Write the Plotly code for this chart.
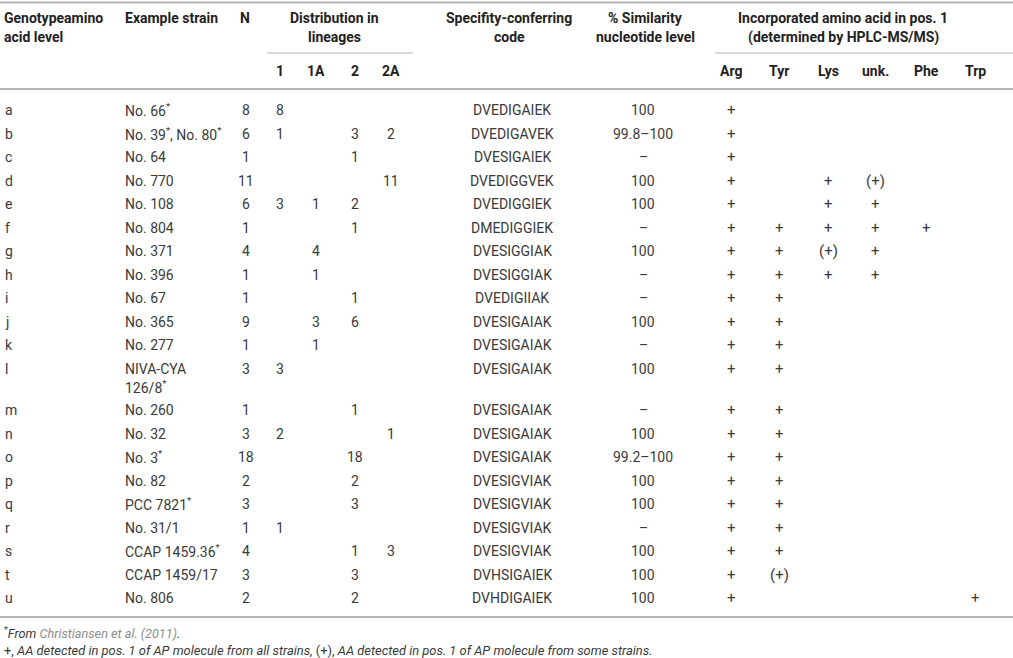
import plotly.graph_objects as go

# table content
genotypes = list("abcdefghijklmnopqrstu")
strains = ["No. 66*", "No. 39*, No. 80*", "No. 64", "No. 770", "No. 108", "No. 804",
           "No. 371", "No. 396", "No. 67", "No. 365", "No. 277", "NIVA-CYA|126/8*",
           "No. 260", "No. 32", "No. 3*", "No. 82", "PCC 7821*", "No. 31/1",
           "CCAP 1459.36*", "CCAP 1459/17", "No. 806"]
n_strains = [8, 6, 1, 11, 6, 1, 4, 1, 1, 9, 1, 3, 1, 3, 18, 2, 3, 1, 4, 3, 2]
lineage_1 = [8, 1, "", "", 3, "", "", "", "", "", "", 3, "", 2, "", "", "", 1, "", "", ""]
lineage_1a = ["", "", "", "", 1, "", 4, 1, "", 3, 1, "", "", "", "", "", "", "", "", "", ""]
lineage_2 = ["", 3, 1, "", 2, 1, "", "", 1, 6, "", "", 1, "", 18, 2, 3, "", 1, 3, 2]
lineage_2a = ["", 2, "", 11, "", "", "", "", "", "", "", "", "", 1, "", "", "", "", 3, "", ""]
codes = ["DVEDIGAIEK", "DVEDIGAVEK", "DVESIGAIEK", "DVEDIGGVEK", "DVEDIGGIEK", "DMEDIGGIEK",
         "DVESIGGIAK", "DVESIGGIAK", "DVEDIGIIAK", "DVESIGAIAK", "DVESIGAIAK", "DVESIGAIAK",
         "DVESIGAIAK", "DVESIGAIAK", "DVESIGAIAK", "DVESIGVIAK", "DVESIGVIAK", "DVESIGVIAK",
         "DVESIGVIAK", "DVHSIGAIEK", "DVHDIGAIEK"]
similarity = ["100", "99.8–100", "–", "100", "100", "–", "100", "–", "–", "100", "–", "100",
              "–", "100", "99.2–100", "100", "100", "–", "100", "100", "100"]
arg = ["+"] * 21
tyr = ["", "", "", "", "", "+", "+", "+", "+", "+", "+", "+", "+", "+", "+", "+", "+", "+", "+", "(+)", ""]
lys = ["", "", "", "+", "+", "+", "(+)", "+"] + [""] * 13
unk = ["", "", "", "(+)", "+", "+", "+", "+"] + [""] * 13
phe = [""] * 5 + ["+"] + [""] * 15
trp = [""] * 20 + ["+"]
aa_names = ["Arg", "Tyr", "Lys", "unk.", "Phe", "Trp"]
lineage_names = ["1", "1A", "2", "2A"]

FONT = "Roboto, Liberation Sans, Arial, sans-serif"
TXT = "#3a3a3a"
HEAD = "#222222"
RULE = "#b4b4b4"

fig = go.Figure()
ann = []


def txt(x, y, s, anchor="center", bold=False, size=14, color=TXT):
    if bold:
        s = "<b>" + s + "</b>"
    ann.append(dict(x=x, y=y, xref="x", yref="y", text=s, showarrow=False,
                    xanchor=anchor, yanchor="middle",
                    font=dict(family=FONT, size=size, color=HEAD if bold else color)))


def sup(s):
    return s.replace("*", "<sup>*</sup>")


# header
txt(2, 18, "Genotypeamino", "left", True)
txt(2, 37, "acid level", "left", True)
txt(123, 18, "Example strain", "left", True)
txt(245, 18, "N", "center", True)
txt(334, 18, "Distribution in", "center", True)
txt(334, 37, "lineages", "center", True)
txt(509, 18, "Specifity-conferring", "center", True)
txt(509, 37, "code", "center", True)
txt(645, 18, "% Similarity", "center", True)
txt(645, 37, "nucleotide level", "center", True)
txt(843, 18, "Incorporated amino acid in pos. 1", "center", True)
txt(843, 37, "(determined by HPLC-MS/MS)", "center", True)

lin_x = [280, 316, 355, 391]
aa_x = [731, 779, 828, 875, 926, 975]
for name, x in zip(lineage_names, lin_x):
    txt(x, 71, name, "center", True)
for name, x in zip(aa_names, aa_x):
    txt(x, 71, name, "center", True)

# body rows
y = 110
for i, g in enumerate(genotypes):
    lines = strains[i].split("|")
    txt(3, y, g, "left")
    for k, line in enumerate(lines):
        txt(123, y + 18 * k, sup(line), "left")
    txt(246, y, str(n_strains[i]))
    for col, x in zip([lineage_1, lineage_1a, lineage_2, lineage_2a], lin_x):
        if col[i] != "":
            txt(x, y, str(col[i]))
    txt(512, y, codes[i])
    txt(643, y, similarity[i])
    for col, x in zip([arg, tyr, lys, unk, phe, trp], aa_x):
        if col[i]:
            txt(x, y, col[i], size=15)
    y += 23.5 + 18 * (len(lines) - 1)

# footnotes
txt(2, 633, "<sup>*</sup><i>From </i><i><span style='color:#8c8c8c'>Christiansen et al. (2011)</span></i><i>.</i>",
    "left", size=12.7)
txt(2, 650, "+, <i>AA detected in pos. 1 of AP molecule from all strains,</i> (+), "
    "<i>AA detected in pos. 1 of AP molecule from some strains.</i>", "left", size=12.9)

# rules
shapes = [
    dict(type="line", x0=0, x1=1013, y0=2.5, y1=2.5, line=dict(color=RULE, width=2)),
    dict(type="line", x0=267, x1=413, y0=53, y1=53, line=dict(color=RULE, width=1)),
    dict(type="line", x0=715, x1=1013, y0=53, y1=53, line=dict(color=RULE, width=1)),
    dict(type="line", x0=0, x1=1013, y0=89, y1=89, line=dict(color=RULE, width=2)),
    dict(type="line", x0=0, x1=1013, y0=617, y1=617, line=dict(color=RULE, width=2)),
]
for s in shapes:
    s.update(xref="x", yref="y", layer="above")

fig.update_layout(
    width=1013, height=658,
    margin=dict(l=0, r=0, t=0, b=0),
    paper_bgcolor="white", plot_bgcolor="white",
    xaxis=dict(range=[0, 1013], visible=False, fixedrange=True),
    yaxis=dict(range=[658, 0], visible=False, fixedrange=True),
    annotations=ann, shapes=shapes, showlegend=False,
)

# page body margin would shift the fixed-size figure
fig.write_html("out.html", config={"displayModeBar": False},
               post_script="document.body.style.margin='0';")
